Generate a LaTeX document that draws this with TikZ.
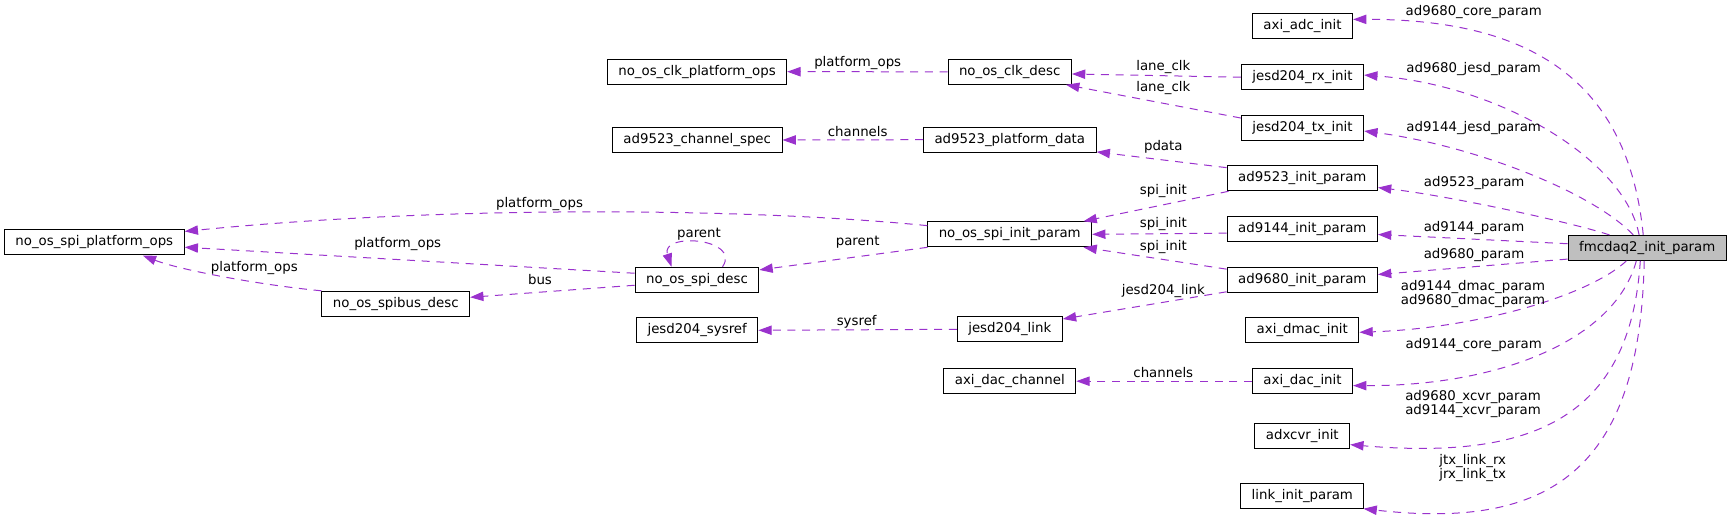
\documentclass[tikz,border=0pt]{standalone}
\usepackage{fontspec}
\setmainfont{DejaVu Sans}
\usepackage{tikz}
\usetikzlibrary{arrows.meta}
\usepackage{xcolor}
\definecolor{edgeorchid}{HTML}{9A32CD}
\definecolor{rootgrey}{HTML}{BFBFBF}
\tikzset{
  classbox/.style={
    draw=black,
    fill=white,
    line width=0.75pt,
    minimum height=18.75pt,
    inner xsep=8.25pt,
    inner ysep=0pt,
    font=\fontsize{10pt}{10.75pt}\selectfont
  },
  rootbox/.style={
    classbox,
    fill=rootgrey
  },
  uses/.style={
    -{Triangle[length=10pt,width=7pt]},
    line width=0.75pt,
    draw=edgeorchid,
    dash pattern=on 6pt off 5pt
  },
  edgelabel/.style={
    inner sep=0pt,
    align=center,
    font=\fontsize{10pt}{10.75pt}\selectfont
  }
}

\begin{document}
\begin{tikzpicture}[x=0.75pt,y=-0.75pt]
\useasboundingbox (0,0) rectangle (1731,520);
\node[rootbox] (fmcdaq) at (1647.2,247.9) {fmcdaq2\_init\_param};
\node[classbox] (axiadc) at (1302.5,26.5) {axi\_adc\_init};
\node[classbox] (jesdrx) at (1302.5,77.2) {jesd204\_rx\_init};
\node[classbox] (jesdtx) at (1302.5,127.8) {jesd204\_tx\_init};
\node[classbox] (adinit) at (1302.3,178.3) {ad9523\_init\_param};
\node[classbox] (ad9144) at (1302.3,229.2) {ad9144\_init\_param};
\node[classbox] (ad9680) at (1302.3,279.8) {ad9680\_init\_param};
\node[classbox] (axidmac) at (1302.3,330.3) {axi\_dmac\_init};
\node[classbox] (axidac) at (1302.5,381.2) {axi\_dac\_init};
\node[classbox] (adxcvr) at (1302.3,436.2) {adxcvr\_init};
\node[classbox] (linkinit) at (1302.3,495.7) {link\_init\_param};
\node[classbox] (clkdesc) at (1009.7,71.8) {no\_os\_clk\_desc};
\node[classbox] (platdata) at (1009.8,139.7) {ad9523\_platform\_data};
\node[classbox] (spiinit) at (1009.7,234.3) {no\_os\_spi\_init\_param};
\node[classbox] (jesdlink) at (1009.8,329.3) {jesd204\_link};
\node[classbox] (dacchan) at (1009.8,381.2) {axi\_dac\_channel};
\node[classbox] (clkops) at (697,71.7) {no\_os\_clk\_platform\_ops};
\node[classbox] (chanspec) at (697.2,140) {ad9523\_channel\_spec};
\node[classbox] (spidesc) at (697,279.8) {no\_os\_spi\_desc};
\node[classbox] (jsysref) at (697.2,330.3) {jesd204\_sysref};
\node[classbox] (spibus) at (395.8,303.8) {no\_os\_spibus\_desc};
\node[classbox] (spiops) at (94.3,242.5) {no\_os\_spi\_platform\_ops};

\draw[uses] (fmcdaq.107) .. controls (1628,80) and (1530,19) .. (axiadc.8);
\draw[uses] (fmcdaq.122) .. controls (1625,160) and (1500,85) .. (jesdrx.2);
\draw[uses] (fmcdaq.137) .. controls (1590,190) and (1470,145) .. (jesdtx.357);
\draw[uses] (fmcdaq.161) .. controls (1570,222) and (1450,196) .. (adinit.353);
\draw[uses] (fmcdaq.177) -- (ad9144.356);
\draw[uses] (fmcdaq.188) -- (ad9680.4);
\draw[uses] (fmcdaq.212) .. controls (1590,295) and (1480,328) .. (axidmac.358);
\draw[uses] (fmcdaq.230) .. controls (1615,340) and (1500,386) .. (axidac.355);
\draw[uses] (fmcdaq.242) .. controls (1630,420) and (1530,460) .. (adxcvr.350);
\draw[uses] (fmcdaq.257) .. controls (1640,470) and (1550,530) .. (linkinit.348);
\draw[uses] (jesdrx.west) -- (clkdesc.358);
\draw[uses] (jesdtx.171) -- (clkdesc.347);
\draw[uses] (clkdesc.west) -- (clkops.east);
\draw[uses] (platdata.west) -- (chanspec.east);
\draw[uses] (adinit.172) -- (platdata.352);
\draw[uses] (adinit.190) -- (spiinit.10);
\draw[uses] (ad9144.183) -- (spiinit.east);
\draw[uses] (ad9680.172) -- (spiinit.350);
\draw[uses] (ad9680.189) -- (jesdlink.11);
\draw[uses] (jesdlink.west) -- (jsysref.east);
\draw[uses] (axidac.west) -- (dacchan.east);
\draw[uses] (spiinit.174) .. controls (750,208) and (450,205) .. (spiops.7);
\draw[uses] (spiinit.189) -- (spidesc.9);
\draw[uses] (spidesc.27) .. controls (742,238) and (660,232) .. (spidesc.153);
\draw[uses] (spidesc.185) -- (spibus.5);
\draw[uses] (spidesc.174) -- (spiops.357);
\draw[uses] (spibus.north west) .. controls (260,285) and (180,270) .. (spiops.345);

\node[edgelabel] (lbadccore) at (1473.7,11.7) {ad9680\_core\_param};
\node[edgelabel] (lbrxjesd) at (1473.7,69) {ad9680\_jesd\_param};
\node[edgelabel] (lbtxjesd) at (1473.7,127.7) {ad9144\_jesd\_param};
\node[edgelabel] (lbad9523) at (1474.2,182.7) {ad9523\_param};
\node[edgelabel] (lbad9144) at (1474,228) {ad9144\_param};
\node[edgelabel] (lbad9680) at (1474,254.7) {ad9680\_param};
\node[edgelabel] (lbdmac) at (1473,294) {ad9144\_dmac\_param\\ad9680\_dmac\_param};
\node[edgelabel] (lbdaccore) at (1473.7,345) {ad9144\_core\_param};
\node[edgelabel] (lbxcvr) at (1473,404.3) {ad9680\_xcvr\_param\\ad9144\_xcvr\_param};
\node[edgelabel] (lblink) at (1472.7,468.3) {jtx\_link\_rx\\jrx\_link\_tx};
\node[edgelabel] (lbrxclk) at (1163.3,66.7) {lane\_clk};
\node[edgelabel] (lbtxclk) at (1163.3,87.7) {lane\_clk};
\node[edgelabel] (lbclkops) at (857.7,63.3) {platform\_ops};
\node[edgelabel] (lbchanspec) at (857.7,131.7) {channels};
\node[edgelabel] (lbpdata) at (1163.3,147.3) {pdata};
\node[edgelabel] (lbspione) at (1163.3,190.7) {spi\_init};
\node[edgelabel] (lbspitwo) at (1163.3,224.3) {spi\_init};
\node[edgelabel] (lbspithree) at (1163.3,246.7) {spi\_init};
\node[edgelabel] (lbjesdlink) at (1163.3,290.7) {jesd204\_link};
\node[edgelabel] (lbsysref) at (856.7,321.7) {sysref};
\node[edgelabel] (lbdacchan) at (1163.3,372.3) {channels};
\node[edgelabel] (lbparent) at (857.7,242.7) {parent};
\node[edgelabel] (lbselfparent) at (699,234.3) {parent};
\node[edgelabel] (lbbus) at (540,280) {bus};
\node[edgelabel] (lbinitops) at (539.5,204) {platform\_ops};
\node[edgelabel] (lbdescops) at (397.7,244.3) {platform\_ops};
\node[edgelabel] (lbbusops) at (254.3,267.7) {platform\_ops};
\end{tikzpicture}
\end{document}
